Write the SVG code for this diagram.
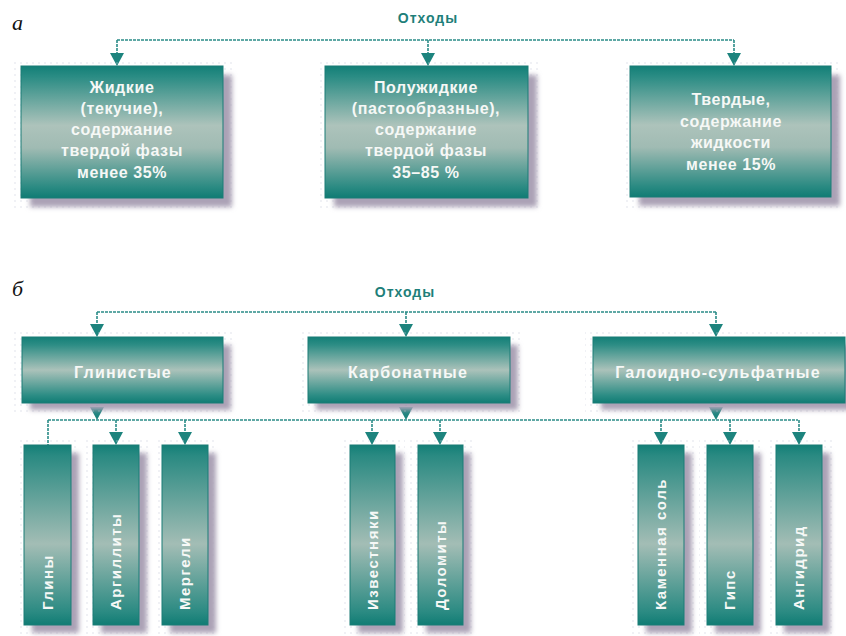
<svg xmlns="http://www.w3.org/2000/svg" width="846" height="636" viewBox="0 0 846 636">
<style>
.lbl{font-family:"Liberation Serif","DejaVu Serif",serif;font-style:italic;font-size:22px;fill:#111}
.title{font-family:"Liberation Sans","DejaVu Sans",sans-serif;font-weight:bold;font-size:14px;letter-spacing:1px;fill:#1e7f7a;text-anchor:middle}
.bt{font-family:"Liberation Sans","DejaVu Sans",sans-serif;font-weight:bold;font-size:16px;letter-spacing:0.6px;fill:#f6f8f6;text-anchor:middle}
.ht{font-family:"Liberation Sans","DejaVu Sans",sans-serif;font-weight:bold;font-size:16px;letter-spacing:1.2px;fill:#f6f8f6;text-anchor:middle}
.vt{font-family:"Liberation Sans","DejaVu Sans",sans-serif;font-weight:bold;font-size:15px;letter-spacing:1.5px;fill:#f6f8f6;text-anchor:start}
.conn{fill:none;stroke:#2b8c88;stroke-width:1.6;stroke-dasharray:3 1}
.ah{fill:#1d847e}
.box{stroke:#1a7d76;stroke-width:1}
.big{fill:url(#gBig)}
.wide{fill:url(#gWide)}
.tall{fill:url(#gTall)}
.shadow{fill:#aba2b6;filter:url(#blur)}
.halo{fill:url(#dots);opacity:0.6}
</style>
<defs>
<linearGradient id="gBig" x1="0" y1="0" x2="0" y2="1">
<stop offset="0" stop-color="#137f77"/>
<stop offset="0.08" stop-color="#2a8c84"/>
<stop offset="0.45" stop-color="#adc3bb"/>
<stop offset="0.62" stop-color="#a0bbb3"/>
<stop offset="0.92" stop-color="#2a8a82"/>
<stop offset="1" stop-color="#107c74"/>
</linearGradient>
<linearGradient id="gWide" x1="0" y1="0" x2="0" y2="1">
<stop offset="0" stop-color="#137f77"/>
<stop offset="0.12" stop-color="#2d8d85"/>
<stop offset="0.5" stop-color="#abc2ba"/>
<stop offset="0.88" stop-color="#2d8d85"/>
<stop offset="1" stop-color="#107c74"/>
</linearGradient>
<linearGradient id="gTall" x1="0" y1="0" x2="0" y2="1">
<stop offset="0" stop-color="#137f77"/>
<stop offset="0.06" stop-color="#2a8a82"/>
<stop offset="0.55" stop-color="#a3bdb5"/>
<stop offset="0.93" stop-color="#2a8a82"/>
<stop offset="1" stop-color="#107c74"/>
</linearGradient>
<filter id="blur" x="-20%" y="-20%" width="140%" height="140%">
<feGaussianBlur stdDeviation="2.5"/>
</filter>
<pattern id="dots" width="6" height="6" patternUnits="userSpaceOnUse">
<circle cx="3" cy="3" r="0.8" fill="#c6c8da"/>
</pattern>
<path id="ah" class="ah" d="M-7,-13 H7 L0,0 Z"/>
</defs>

<rect width="846" height="636" fill="#ffffff"/>

<text class="lbl" x="12" y="30">а</text>
<text class="lbl" x="12" y="296">б</text>

<g id="connectors">
<path class="conn" d="M117,40 H734 M117,40 V56 M428,40 V56 M734,40 V56"/>
<use href="#ah" x="117" y="66"/>
<use href="#ah" x="428" y="66"/>
<use href="#ah" x="734" y="66"/>

<path class="conn" d="M97,312 H716 M97,312 V327 M406,312 V327 M716,312 V327"/>
<use href="#ah" x="97" y="337"/>
<use href="#ah" x="406" y="337"/>
<use href="#ah" x="716" y="337"/>

<path class="conn" d="M97,403 V410 M406,403 V410 M716,403 V410"/>
<use href="#ah" x="97" y="420"/>
<use href="#ah" x="406" y="420"/>
<use href="#ah" x="716" y="420"/>

<path class="conn" d="M48,420 H798 M48,420 V445 M116,420 V435 M185,420 V435 M372,420 V435 M440,420 V435 M661,420 V435 M730,420 V435 M799,420 V435"/>
<use href="#ah" x="116" y="445"/>
<use href="#ah" x="185" y="445"/>
<use href="#ah" x="372" y="445"/>
<use href="#ah" x="440" y="445"/>
<use href="#ah" x="661" y="445"/>
<use href="#ah" x="730" y="445"/>
<use href="#ah" x="799" y="445"/>
</g>

<g id="title-a"><text class="title" x="428" y="23">Отходы</text></g>

<g id="n-liquid">
<rect class="halo" x="13" y="58" width="222" height="152"/>
<rect class="shadow" x="30" y="75" width="202" height="132"/>
<rect class="box big" x="21" y="66" width="202" height="132"/>
<text class="bt" x="122" y="93">Жидкие</text>
<text class="bt" x="122" y="114">(текучие),</text>
<text class="bt" x="122" y="135">содержание</text>
<text class="bt" x="122" y="156">твердой фазы</text>
<text class="bt" x="122" y="178">менее 35%</text>
</g>

<g id="n-semi">
<rect class="halo" x="317" y="58" width="223" height="152"/>
<rect class="shadow" x="334" y="75" width="203" height="132"/>
<rect class="box big" x="325" y="66" width="203" height="132"/>
<text class="bt" x="426" y="93">Полужидкие</text>
<text class="bt" x="426" y="114">(пастообразные),</text>
<text class="bt" x="426" y="135">содержание</text>
<text class="bt" x="426" y="156">твердой фазы</text>
<text class="bt" x="426" y="178">35–85 %</text>
</g>

<g id="n-solid">
<rect class="halo" x="622" y="58" width="220" height="152"/>
<rect class="shadow" x="639" y="75" width="201" height="131"/>
<rect class="box big" x="630" y="66" width="201" height="131"/>
<text class="bt" x="731" y="105">Твердые,</text>
<text class="bt" x="731" y="127">содержание</text>
<text class="bt" x="731" y="148">жидкости</text>
<text class="bt" x="731" y="170">менее 15%</text>
</g>

<g id="title-b"><text class="title" x="405" y="297">Отходы</text></g>

<g id="n-clay">
<rect class="halo" x="14" y="330" width="221" height="84"/>
<rect class="shadow" x="30" y="345" width="201" height="65"/>
<rect class="box wide" x="22" y="337" width="201" height="66"/>
<text class="ht" x="123" y="378">Глинистые</text>
</g>

<g id="n-carb">
<rect class="halo" x="300" y="330" width="222" height="84"/>
<rect class="shadow" x="316" y="345" width="202" height="65"/>
<rect class="box wide" x="308" y="337" width="202" height="66"/>
<text class="ht" x="408" y="378">Карбонатные</text>
</g>

<g id="n-halo">
<rect class="halo" x="585" y="330" width="261" height="84"/>
<rect class="shadow" x="601" y="345" width="252" height="65"/>
<rect class="box wide" x="593" y="337" width="252" height="66"/>
<text class="ht" x="718" y="378">Галоидно-сульфатные</text>
</g>

<g id="n-gliny">
<rect class="halo" x="16" y="438" width="64" height="196"/>
<rect class="shadow" x="32" y="453" width="47" height="180"/>
<rect class="box tall" x="24" y="445" width="47" height="180"/>
<text class="vt" transform="translate(53,610) rotate(-90)">Глины</text>
</g>

<g id="n-argillity">
<rect class="halo" x="85" y="438" width="64" height="196"/>
<rect class="shadow" x="101" y="453" width="46" height="180"/>
<rect class="box tall" x="93" y="445" width="46" height="180"/>
<text class="vt" transform="translate(121,610) rotate(-90)">Аргиллиты</text>
</g>

<g id="n-mergeli">
<rect class="halo" x="154" y="438" width="64" height="196"/>
<rect class="shadow" x="170" y="453" width="46" height="180"/>
<rect class="box tall" x="162" y="445" width="46" height="180"/>
<text class="vt" transform="translate(190,610) rotate(-90)">Мергели</text>
</g>

<g id="n-izvestnyaki">
<rect class="halo" x="342" y="438" width="63" height="196"/>
<rect class="shadow" x="358" y="453" width="45" height="180"/>
<rect class="box tall" x="350" y="445" width="45" height="180"/>
<text class="vt" transform="translate(378,610) rotate(-90)">Известняки</text>
</g>

<g id="n-dolomity">
<rect class="halo" x="410" y="438" width="63" height="196"/>
<rect class="shadow" x="426" y="453" width="45" height="180"/>
<rect class="box tall" x="418" y="445" width="45" height="180"/>
<text class="vt" transform="translate(446,610) rotate(-90)">Доломиты</text>
</g>

<g id="n-kamsol">
<rect class="halo" x="630" y="438" width="64" height="196"/>
<rect class="shadow" x="646" y="453" width="46" height="180"/>
<rect class="box tall" x="638" y="445" width="46" height="180"/>
<text class="vt" transform="translate(666,610) rotate(-90)">Каменная соль</text>
</g>

<g id="n-gips">
<rect class="halo" x="699" y="438" width="64" height="196"/>
<rect class="shadow" x="715" y="453" width="46" height="180"/>
<rect class="box tall" x="707" y="445" width="46" height="180"/>
<text class="vt" transform="translate(735,610) rotate(-90)">Гипс</text>
</g>

<g id="n-angidrid">
<rect class="halo" x="768" y="438" width="64" height="196"/>
<rect class="shadow" x="784" y="453" width="46" height="180"/>
<rect class="box tall" x="776" y="445" width="46" height="180"/>
<text class="vt" transform="translate(804,610) rotate(-90)">Ангидрид</text>
</g>
</svg>
